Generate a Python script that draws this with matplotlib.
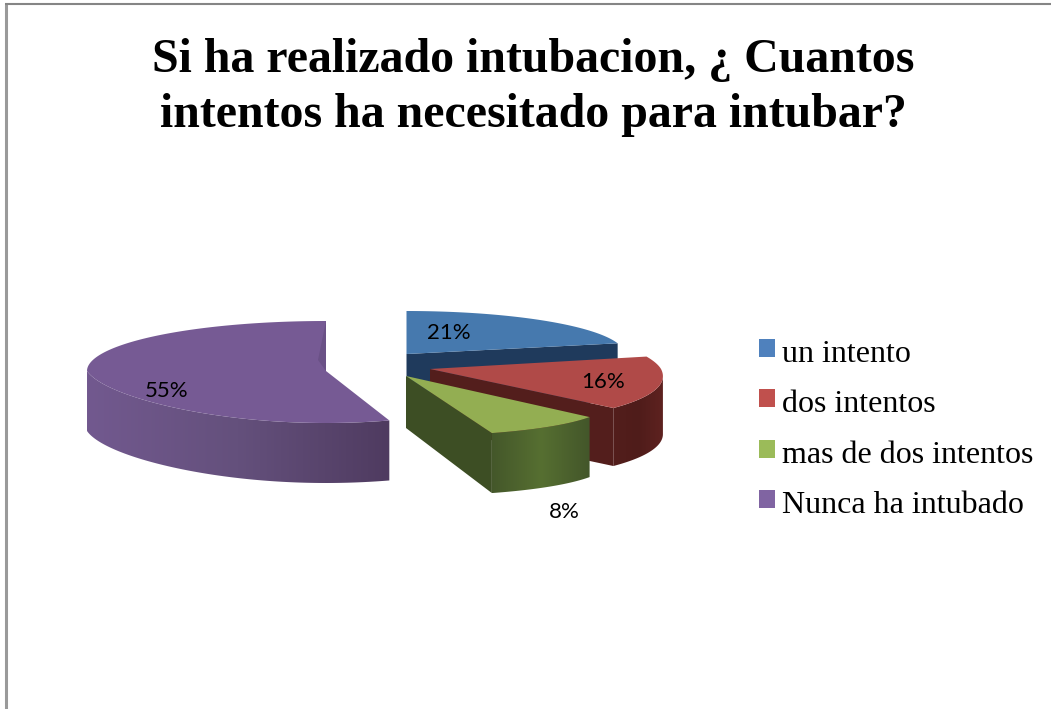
import numpy as np
import matplotlib
matplotlib.use('Agg')
import matplotlib.pyplot as plt
from matplotlib.colors import LinearSegmentedColormap
from matplotlib.patches import Polygon, Patch

# datos del grafico
categorias = ['un intento', 'dos intentos', 'mas de dos intentos', 'Nunca ha intubado']
valores = [21, 16, 8, 55]
titulo = 'Si ha realizado intubacion, ¿ Cuantos\nintentos ha necesitado para intubar?'

# colores
col_leyenda = ['#4f81bd', '#c0504d', '#9bbb59', '#8064a2']
col_tapa = ['#4679ae', '#b04a48', '#93ae52', '#765a94']
col_corte = ['#1f3a5c', '#531e1c', '#3d4e24', '#5a4470']
# lado curvo: izquierda, centro, derecha
col_lado = [('#1f3a5c', '#1f3a5c', '#1f3a5c'),
            ('#531e1c', '#4f1c1a', '#5e2220'),
            ('#44572a', '#566f31', '#43562a'),
            ('#72598f', '#64507c', '#4f3b60')]

# geometria de cada porcion (pixeles de la figura): ax, ay, rx, ry atras, ry frente, persp atras, persp frente
geo = [(406.5, 354, 218, 43, 43, 0.0, 0.0),
       (430, 369, 231, 50, 57, 0.13, 0.13),
       (406, 376, 185, 60, 60, 0.13, 0.528),
       (326, 371, 239, 50, 52, 0.0, -0.15)]
grosor = [58, 58, 60, 60]
grosor_vertice = [58, 58, 52, 60]
pos_etiq = [(449, 333), (603, 382), (564, 512), (167, 391)]

fig = plt.figure(figsize=(10.51, 7.09), dpi=100)
ax = fig.add_axes([0, 0, 1, 1])
ax.axis('off')

# marco gris, solo se ve arriba y a la izquierda
ax.plot([5.8, 5.8], [3, 709], color='#9a9a9a', lw=2.2, solid_capstyle='butt')
ax.plot([4.5, 1051], [3.6, 3.6], color='#858585', lw=1.5, solid_capstyle='butt')


def punto(theta, g):
    a_x, a_y, rx, ryb, ryf, pb, pf = g
    u = np.sin(theta)
    v = -np.cos(theta)
    p = np.where(v < 0, pb, pf)
    ry = np.where(v < 0, ryb, ryf)
    return a_x + rx * u * (1 + p * v), a_y + ry * v


limites = np.radians(np.cumsum([0] + valores) * 3.6)

# de atras hacia adelante: morado, azul, rojo, verde
z = 2
for i in [3, 0, 1, 2]:
    g = geo[i]
    th = np.linspace(limites[i], limites[i + 1], 200)
    xs, ys = punto(th, g)
    a_x, a_y = g[0], g[1]

    # cara de corte
    if i != 3:
        ax.add_patch(Polygon([(a_x, a_y), (xs[-1], ys[-1]), (xs[-1], ys[-1] + grosor[i]), (a_x, a_y + grosor_vertice[i])],
                             fc=col_corte[i], ec='none', zorder=z))
        z += 1

    # lado curvo con degradado, solo entre el extremo derecho y el izquierdo del arco
    if i != 0:
        k0, k1 = xs.argmax(), xs.argmin()
        xv, yv = xs[k0:k1 + 1], ys[k0:k1 + 1]
        cmap = LinearSegmentedColormap.from_list(f'lado{i}', col_lado[i])
        franja = ax.imshow(np.linspace(0, 1, 256)[None, :], cmap=cmap, aspect='auto', zorder=z,
                           extent=[xv.min(), xv.max(), yv.max() + grosor[i], yv.min()])
        borde = Polygon(np.r_[np.c_[xv, yv], np.c_[xv, yv + grosor[i]][::-1]], transform=ax.transData)
        franja.set_clip_path(borde)
        z += 1

    # tapa
    ax.add_patch(Polygon(np.r_[[(a_x, a_y)], np.c_[xs, ys]], fc=col_tapa[i], ec='none', zorder=z))
    z += 1
    if i == 3:
        # pliegue oscuro junto al corte vertical del morado
        ax.add_patch(Polygon([(a_x, a_y - g[3]), (a_x, a_y), (a_x - 8, a_y - 11)], fc='#6a5186', ec='none', zorder=z))
        z += 1

ax.set_xlim(0, 1051)
ax.set_ylim(709, 0)

for (x, y), v in zip(pos_etiq, valores):
    ax.text(x, y, f'{v}%', ha='center', va='center', fontsize=16, family='Lato', color='black', zorder=30)

ax.text(533, 38, titulo, ha='center', va='top', fontsize=34.5, fontweight='bold',
        family='Liberation Serif', linespacing=1.33, color='black')

handles = [Patch(fc=c, ec='none') for c in col_leyenda]
leg = ax.legend(handles, categorias, loc='upper left', bbox_to_anchor=(759, 340), bbox_transform=ax.transData,
                frameon=False, prop={'family': 'Liberation Serif', 'size': 23},
                handlelength=0.5, handleheight=0.5, handletextpad=0.22, labelspacing=0.67,
                borderpad=0, borderaxespad=0)
# los cuadros van un poco mas arriba que el texto
for p in leg.get_patches():
    p.set_y(p.get_y() + 2)

fig.savefig('out.png', dpi=100)
